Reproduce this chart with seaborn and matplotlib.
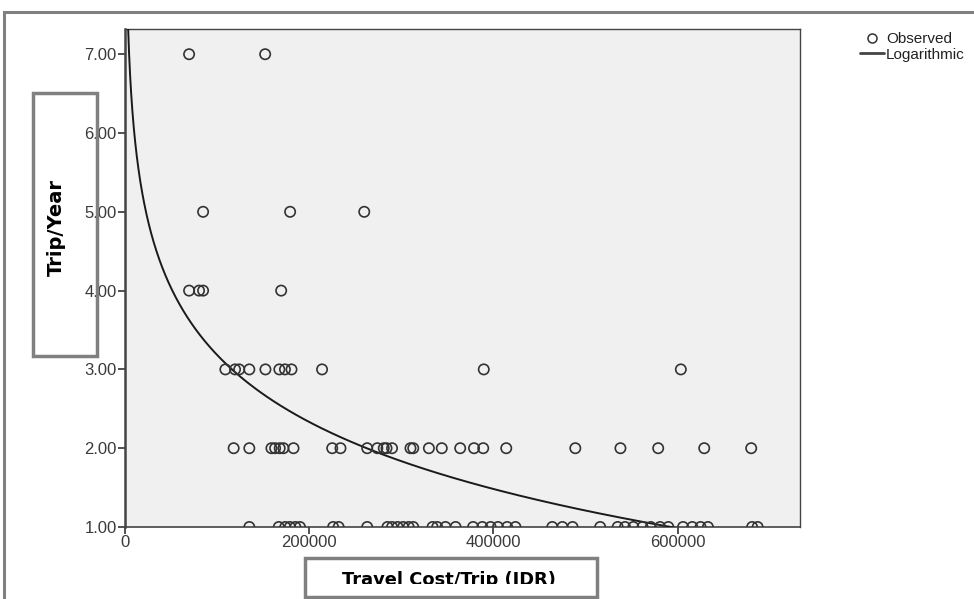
import numpy as np
import pandas as pd
import matplotlib
matplotlib.use("Agg")
import matplotlib.pyplot as plt
from matplotlib.patches import Rectangle
from matplotlib.lines import Line2D
import seaborn as sns

# ---- data ----
cost_y1 = [135000, 167000, 174000, 179000, 185000, 190000, 226000, 232000, 263000,
           285000, 290000, 296000, 302000, 308000, 313000, 334000, 339000, 348000,
           359000, 378000, 388000, 397000, 405000, 415000, 424000, 464000, 475000,
           486000, 516000, 535000, 543000, 552000, 562000, 571000, 581000, 590000,
           606000, 616000, 625000, 633000, 681000, 687000]
cost_y2 = [118000, 135000, 159000, 163000, 168000, 172000, 183000, 225000, 234000,
           263000, 274000, 281000, 284000, 290000, 310000, 313000, 330000, 344000,
           364000, 379000, 389000, 414000, 489000, 538000, 579000, 629000, 680000]
cost_y3 = [109000, 119500, 124000, 135000, 152500, 167600, 173700, 180800, 214000,
           389600, 603600]
cost_y4 = [69600, 80400, 84800, 169600]
cost_y5 = [84800, 179300, 259800]
cost_y7 = [69600, 152200]

# logarithmic fit  y = a + b*ln(x)
fit_a = 17.31
fit_b = -1.227

y_ticks = [1, 2, 3, 4, 5, 6, 7]
y_tick_labels = ["1.00", "2.00", "3.00", "4.00", "5.00", "6.00", "7.00"]
x_ticks = [0, 200000, 400000, 600000]
x_tick_labels = ["0", "200000", "400000", "600000"]

rows = []
for yv, xs in [(1, cost_y1), (2, cost_y2), (3, cost_y3), (4, cost_y4), (5, cost_y5), (7, cost_y7)]:
    for xv in xs:
        rows.append((xv, yv))
df = pd.DataFrame(rows, columns=["cost", "trips"])

xfit = np.geomspace(1500, 700000, 400)
fit_df = pd.DataFrame({"cost": xfit, "trips": fit_a + fit_b * np.log(xfit)})

# ---- figure ----
sns.set_theme(style="white")
plt.rcParams["font.family"] = ["Liberation Sans", "DejaVu Sans"]

W, H = 974, 599
fig = plt.figure(figsize=(W / 100, H / 100), dpi=100)
ax = fig.add_axes([125 / W, 1 - 527 / H, (800 - 125) / W, (527 - 29) / H])
ax.set_facecolor("#f0f0f0")

sns.lineplot(data=fit_df, x="cost", y="trips", ax=ax, color="#1a1a1a", lw=1.4,
             label="Logarithmic", legend=False, zorder=3)
sns.scatterplot(data=df, x="cost", y="trips", ax=ax, marker="o", s=55,
                facecolor="none", edgecolor="#333333", linewidth=1.2,
                label="Observed", legend=False, zorder=4)

ax.set_xlim(0, 733000)
ax.set_ylim(1.0, 7.32)
ax.set_xticks(x_ticks)
ax.set_xticklabels(x_tick_labels)
ax.set_yticks(y_ticks)
ax.set_yticklabels(y_tick_labels)
ax.tick_params(axis="both", direction="out", length=5, width=1.2, color="#333333",
               labelsize=12, labelcolor="#3a3a3a", pad=1, left=True, bottom=True)
for s in ax.spines.values():
    s.set_color("#444444")
    s.set_linewidth(1.0)
ax.spines["left"].set_linewidth(1.8)
ax.spines["bottom"].set_linewidth(1.2)
ax.set_xlabel("")
ax.set_ylabel("")

# outer gray frame
fig.patches.append(Rectangle((4 / W, -0.1), 1.2, 1 - 12 / H + 0.1, transform=fig.transFigure,
                             fill=False, edgecolor="#808080", lw=2.2, zorder=0))

# y-label box
fig.patches.append(Rectangle((33 / W, 1 - 356 / H), (97 - 33) / W, (356 - 93) / H,
                             transform=fig.transFigure, fill=False, edgecolor="#808080",
                             lw=2.5, zorder=10))
fig.text(56 / W, 1 - 228 / H, "Trip/Year", rotation=90, ha="center", va="center",
         fontsize=14, fontweight="bold", color="black", family="DejaVu Sans")

# x-label box
fig.patches.append(Rectangle((305 / W, 1 - 597 / H), (597 - 305) / W, (597 - 558) / H,
                             transform=fig.transFigure, fill=True, facecolor="white",
                             edgecolor="#808080", lw=2.5, zorder=10))
xt = fig.text(449 / W, 1 - 585 / H, "Travel Cost/Trip (IDR)", ha="center", va="baseline",
              fontsize=12.9, fontweight="bold", color="black", zorder=11,
              family="DejaVu Sans")
clip = Rectangle((300 / W, 1 - 583.5 / H), 300 / W, 30 / H, transform=fig.transFigure)
xt.set_clip_path(clip)

# legend
h1 = Line2D([], [], marker="o", ls="none", markersize=6.5, markerfacecolor="none",
            markeredgecolor="#333333", markeredgewidth=1.1)
h2 = Line2D([], [], color="#444444", lw=2)
fig.legend([h1, h2], ["Observed", "Logarithmic"], loc="upper left",
           bbox_to_anchor=(860 / W, 1 - 32 / H), frameon=False, fontsize=11,
           handlelength=1.6, handletextpad=0.1, labelspacing=0.12, borderpad=0,
           borderaxespad=0, labelcolor="#222222")

fig.savefig("out.png", dpi=100)
